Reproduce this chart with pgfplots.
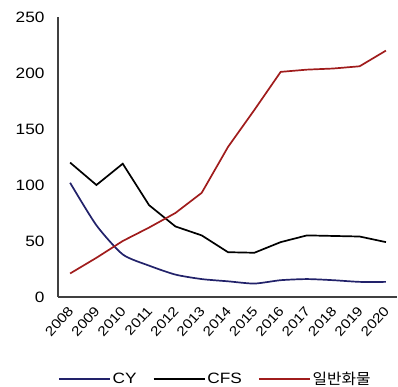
\documentclass[border=0pt]{standalone}
\usepackage{pgfplots}
\pgfplotsset{compat=1.18}
\usepackage{fontspec}
\setmainfont[FakeStretch=1.15]{Liberation Sans}
\newfontfamily\kr[FakeStretch=1.05]{Noto Sans CJK KR}
\definecolor{cyc}{HTML}{22226A}
\definecolor{gen}{HTML}{A01C1C}
\begin{document}
\begin{tikzpicture}[x=1pt,y=1pt]
\useasboundingbox (-58,-90) rectangle (340,297);
\begin{axis}[
  at={(0,0)}, anchor=origin,
  scale only axis, width=339pt, height=280pt,
  xmin=2007.54, xmax=2020.42, ymin=0, ymax=250,
  axis x line=bottom, axis y line=left,
  axis line style={line width=2.2pt, color=black!75, -},
  xtick={2008,...,2020},
  xticklabels={2008,2009,2010,2011,2012,2013,2014,2015,2016,2017,2018,2019,2020},
  ytick={0,50,...,250},
  major tick length=0pt,
  font=\fontsize{15}{18}\selectfont,
  /pgf/number format/assume math mode=true,
  x tick label style={xshift=-3pt, yshift=-8pt, rotate=48, anchor=north east, inner sep=0pt, font=\fontsize{13.5}{16}\selectfont},
  y tick label style={xshift=-10pt},
  legend columns=3,
  legend style={draw=none, at={(0.464,-0.293)}, anchor=center, fill=none,
    /tikz/every even column/.append style={column sep=14pt}, inner sep=0pt},
  legend image code/.code={\draw[#1] (0pt,0pt) -- (51pt,0pt);},
  every axis plot/.append style={line width=1.7pt},
]
\addplot[cyc, smooth, tension=0.4] coordinates {
(2008,102) (2009,64) (2010,38) (2011,28) (2012,20) (2013,16) (2014,14) (2015,12) (2016,15) (2017,16) (2018,15) (2019,13.5) (2020,13.5)};
\addlegendentry{CY}
\addplot[black] coordinates {
(2008,120) (2009,100) (2010,119) (2011,82) (2012,63) (2013,55) (2014,40) (2015,39.5) (2016,49) (2017,55) (2018,54.5) (2019,54) (2020,49)};
\addlegendentry{CFS}
\addplot[gen] coordinates {
(2008,21) (2009,35) (2010,50) (2011,62) (2012,75) (2013,93) (2014,134) (2015,167) (2016,201) (2017,203) (2018,204) (2019,206) (2020,220)};
\addlegendentry{\kr 일반화물}
\end{axis}
\end{tikzpicture}
\end{document}
